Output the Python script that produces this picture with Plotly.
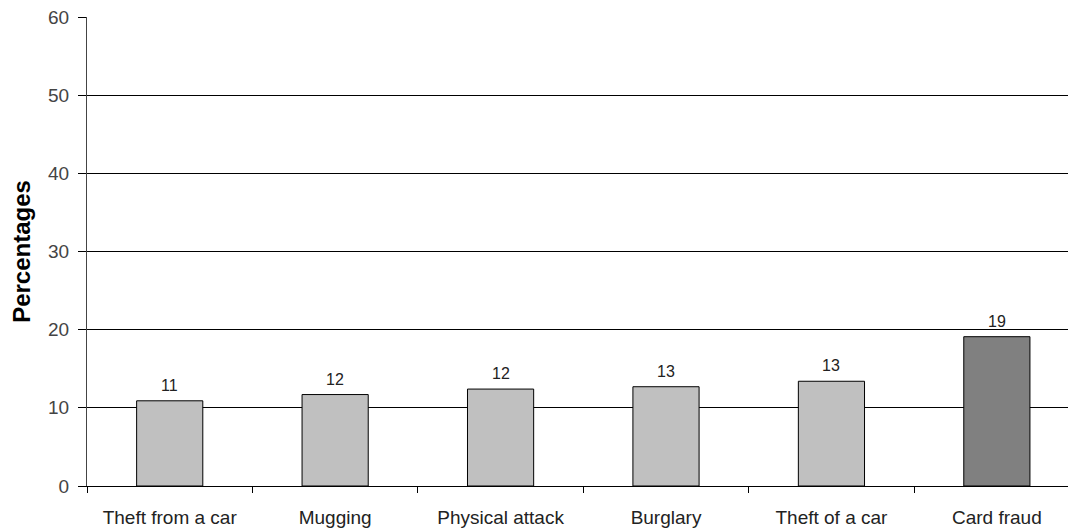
import plotly.graph_objects as go

# Share of victims reporting each crime type (percent)
categories = ["Theft from a car", "Mugging", "Physical attack", "Burglary", "Theft of a car", "Card fraud"]
percentages = [10.9, 11.7, 12.4, 12.7, 13.4, 19.1]
bar_colors = ["#c0c0c0", "#c0c0c0", "#c0c0c0", "#c0c0c0", "#c0c0c0", "#808080"]
y_ticks = [0, 10, 20, 30, 40, 50, 60]

FONT = "Liberation Sans, Arial, sans-serif"

fig = go.Figure(
    go.Bar(
        x=categories,
        y=percentages,
        marker=dict(color=bar_colors, line=dict(color="#000000", width=1)),
        width=0.4,
    )
)

# value labels sitting a little above each bar
for cat, val in zip(categories, percentages):
    fig.add_annotation(
        x=cat,
        y=val,
        text=f"{val:.0f}",
        showarrow=False,
        yanchor="bottom",
        yshift=5,
        font=dict(family=FONT, size=16, color="#222222"),
    )

fig.update_layout(
    width=1068,
    height=529,
    margin=dict(l=87, r=0, t=17, b=43),
    paper_bgcolor="white",
    plot_bgcolor="white",
    showlegend=False,
    font=dict(family=FONT, color="#333333"),
    xaxis=dict(
        range=[-0.5, 5.43],
        showline=True,
        linecolor="#000000",
        linewidth=1,
        ticks="outside",
        tickson="boundaries",
        ticklen=6,
        tickcolor="#000000",
        showgrid=False,
        automargin=False,
        ticklabelstandoff=14,
        tickfont=dict(size=19, color="#222222"),
    ),
    yaxis=dict(
        range=[0, 60],
        tickvals=y_ticks,
        showline=True,
        linecolor="#444444",
        linewidth=1,
        ticks="outside",
        ticklen=8,
        tickcolor="#000000",
        showgrid=True,
        gridcolor="#000000",
        gridwidth=1,
        zeroline=False,
        automargin=False,
        ticklabelstandoff=5,
        tickfont=dict(size=19, color="#444444"),
        title=dict(text="<b>Percentages</b>", font=dict(size=24, color="#000000"), standoff=10),
    ),
)

fig.write_html("out.html")
